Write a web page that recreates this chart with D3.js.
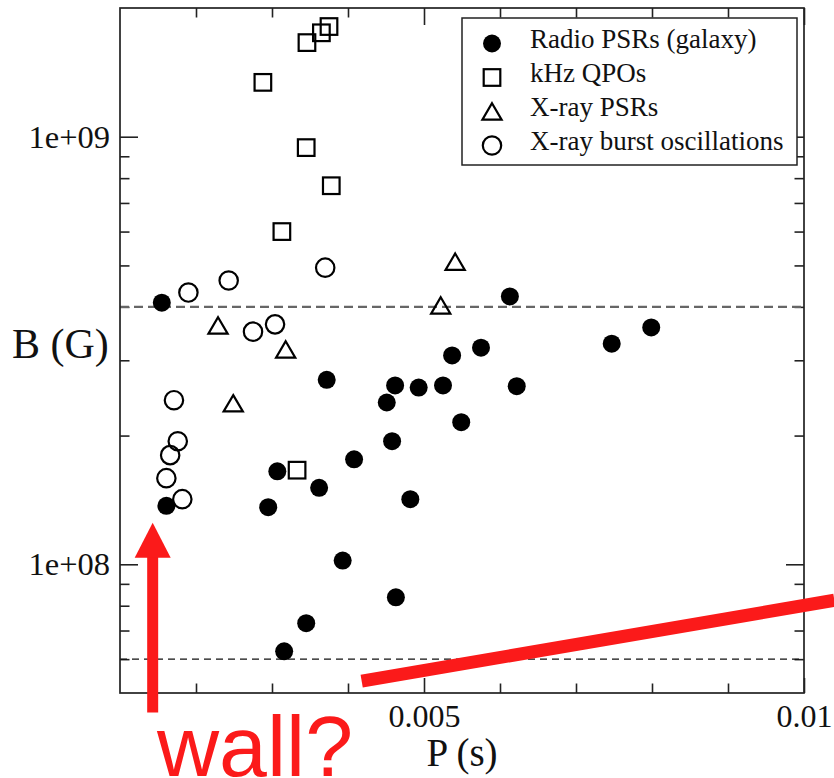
<!DOCTYPE html>
<html>
<head>
<meta charset="utf-8">
<script src="https://cdn.jsdelivr.net/npm/d3@7"></script>
<style>
  html, body { margin: 0; padding: 0; background: #fff; }
  svg { display: block; }
  text { font-family: "Liberation Serif", "Times New Roman", serif; fill: #111; }
</style>
</head>
<body>
<div id="chart"></div>
<script>
// B vs P for millisecond pulsars, with a "wall?" annotation

// [P (s), B (G)] for each population
const radioPSRs = [
  [0.00155, 4.09e8], [0.00372, 2.70e8], [0.00462, 2.62e8], [0.00493, 2.59e8],
  [0.00525, 2.62e8], [0.00451, 2.39e8], [0.00458, 1.94e8], [0.00408, 1.76e8],
  [0.00307, 1.65e8], [0.00362, 1.51e8], [0.00482, 1.42e8], [0.00161, 1.37e8],
  [0.00295, 1.36e8], [0.00613, 4.23e8], [0.00799, 3.58e8], [0.00747, 3.28e8],
  [0.00575, 3.21e8], [0.00537, 3.08e8], [0.00622, 2.61e8], [0.00549, 2.15e8],
  [0.00393, 1.02e8], [0.00463, 8.37e7], [0.00345, 7.28e7], [0.00316, 6.26e7]
];
const khzQPOs = [
  [0.00346, 1.66e9], [0.00365, 1.75e9], [0.00375, 1.81e9], [0.00288, 1.34e9],
  [0.00345, 9.43e8], [0.00378, 7.68e8], [0.00313, 6.00e8], [0.00333, 1.66e8]
];
const xrayPSRs = [
  [0.00229, 3.62e8], [0.00318, 3.18e8], [0.00249, 2.38e8],
  [0.00522, 4.03e8], [0.00541, 5.10e8]
];
const burstOsc = [
  [0.00190, 4.32e8], [0.00243, 4.61e8], [0.00370, 4.94e8], [0.00275, 3.50e8],
  [0.00304, 3.64e8], [0.00171, 2.42e8], [0.00176, 1.94e8], [0.00166, 1.80e8],
  [0.00161, 1.59e8], [0.00182, 1.42e8]
];

const legendLabels = ["Radio PSRs (galaxy)", "kHz QPOs", "X-ray PSRs", "X-ray burst oscillations"];
const legendSymbols = ["dot", "square", "triangle", "circle"];

// axes
const xMajor = [0.005, 0.01];
const xMinor = [0.002, 0.003, 0.004, 0.006, 0.007, 0.008, 0.009];
const yMajor = [1e8, 1e9];
const yMinor = [6e7, 7e7, 8e7, 9e7, 2e8, 3e8, 4e8, 5e8, 6e8, 7e8, 8e8, 9e8];
const xLabels = { 0.005: "0.005", 0.01: "0.01" };
const yLabels = { 1e8: "1e+08", 1e9: "1e+09" };

// horizontal dashed limits
const bLimits = [4e8, 6e7];

// red annotations (data coords)
const wallLine = [[0.00418, 5.33e7], [0.01040, 8.24e7]];
const wallArrow = { p: 0.00143, from: 4.5e7, to: 1.25e8 };

const width = 834, height = 778;
const plot = { left: 120, right: 804, top: 8, bottom: 693 };

const svg = d3.select("#chart").append("svg")
  .attr("width", width).attr("height", height);

const x = d3.scaleLinear().domain([0.001, 0.01]).range([plot.left, plot.right]);
const y = d3.scaleLog().domain([5e7, 2e9]).range([plot.bottom, plot.top]);

// ticks on all four sides, pointing inward
function ticks(axisFn, scale, vals, size, fmt, pad, pos) {
  const g = svg.append("g")
    .attr("transform", pos)
    .call(axisFn(scale).tickValues(vals).tickSizeInner(-size).tickSizeOuter(0)
      .tickPadding(pad).tickFormat(fmt || (() => "")));
  g.select(".domain").remove();
  g.selectAll("line").attr("stroke", "#222").attr("stroke-width", 1.6);
  return g;
}
const bottomPos = `translate(0,${plot.bottom})`;
const leftPos = `translate(${plot.left},0)`;
const xl = ticks(d3.axisBottom, x, xMajor, 15, d => xLabels[d], 11, bottomPos);
ticks(d3.axisBottom, x, xMinor, 9.5, null, 0, bottomPos);
ticks(d3.axisTop, x, xMajor, 17, null, 0, `translate(0,${plot.top})`);
ticks(d3.axisTop, x, xMinor, 9.5, null, 0, `translate(0,${plot.top})`);
const yl = ticks(d3.axisLeft, y, yMajor, 18, d => yLabels[d], 10, leftPos);
ticks(d3.axisLeft, y, yMinor, 9.5, null, 0, leftPos);
ticks(d3.axisRight, y, yMajor, 18, null, 0, `translate(${plot.right},0)`);
ticks(d3.axisRight, y, yMinor, 9.5, null, 0, `translate(${plot.right},0)`);

xl.selectAll("text").style("font-size", "32px").attr("fill", "#111")
  .style("font-family", '"Liberation Serif", serif');
yl.selectAll("text").style("font-size", "32.5px").attr("fill", "#111")
  .style("font-family", '"Liberation Serif", serif');

// dashed lines
svg.append("line")
  .attr("x1", plot.left).attr("x2", plot.right)
  .attr("y1", y(bLimits[0])).attr("y2", y(bLimits[0]))
  .attr("stroke", "#666").attr("stroke-width", 2.3).attr("stroke-dasharray", "9,5");
svg.append("line")
  .attr("x1", plot.left).attr("x2", plot.right)
  .attr("y1", y(bLimits[1])).attr("y2", y(bLimits[1]))
  .attr("stroke", "#111").attr("stroke-width", 1.3).attr("stroke-dasharray", "7,5");

// frame
svg.append("rect")
  .attr("x", plot.left).attr("y", plot.top)
  .attr("width", plot.right - plot.left).attr("height", plot.bottom - plot.top)
  .attr("fill", "none").attr("stroke", "#222").attr("stroke-width", 1.7);

// axis titles
svg.append("text").attr("x", 12).attr("y", 358)
  .style("font-size", "42px").text("B (G)");
svg.append("text").attr("x", (plot.left + plot.right) / 2).attr("y", 766)
  .attr("text-anchor", "middle").style("font-size", "39px").text("P (s)");

// symbol painter
function drawSymbol(g, kind) {
  if (kind === "dot") {
    g.append("circle").attr("r", 9).attr("fill", "#000");
  } else if (kind === "circle") {
    g.append("circle").attr("r", 9.2).attr("fill", "none")
      .attr("stroke", "#000").attr("stroke-width", 2.2);
  } else if (kind === "square") {
    g.append("rect").attr("x", -8.3).attr("y", -8.3).attr("width", 16.6).attr("height", 16.6)
      .attr("fill", "none").attr("stroke", "#000").attr("stroke-width", 2.2);
  } else {
    g.append("path").attr("d", "M0,-8.2L9.6,8.2L-9.6,8.2Z")
      .attr("fill", "none").attr("stroke", "#000").attr("stroke-width", 2.2)
      .attr("stroke-linejoin", "miter");
  }
}

const series = [radioPSRs, khzQPOs, xrayPSRs, burstOsc];
series.forEach((data, i) => {
  svg.append("g").selectAll("g")
    .data(data)
    .join("g")
    .attr("transform", d => `translate(${x(d[0])},${y(d[1])})`)
    .each(function () { drawSymbol(d3.select(this), legendSymbols[i]); });
});

// legend
const legend = svg.append("g");
legend.append("rect")
  .attr("x", 462).attr("y", 18).attr("width", 335).attr("height", 147)
  .attr("fill", "#fff").attr("stroke", "#222").attr("stroke-width", 1.5);
legendLabels.forEach((lab, i) => {
  const cy = 43.5 + i * 34;
  const s = legend.append("g").attr("transform", `translate(492,${cy})`);
  drawSymbol(s, legendSymbols[i]);
  legend.append("text").attr("x", 530).attr("y", cy + 4.5)
    .style("font-size", "27px").text(lab);
});

// red annotations
const red = "#fb1a1a";
svg.append("line")
  .attr("x1", x(wallLine[0][0])).attr("y1", y(wallLine[0][1]))
  .attr("x2", x(wallLine[1][0])).attr("y2", y(wallLine[1][1]))
  .attr("stroke", red).attr("stroke-width", 13);

const ax = x(wallArrow.p), ay0 = y(wallArrow.from), ay1 = y(wallArrow.to);
svg.append("line")
  .attr("x1", ax).attr("x2", ax).attr("y1", ay0).attr("y2", ay1 + 34)
  .attr("stroke", red).attr("stroke-width", 11);
svg.append("path")
  .attr("d", `M${ax},${ay1}L${ax + 18},${ay1 + 35}L${ax - 18},${ay1 + 35}Z`)
  .attr("fill", red);

svg.append("text").attr("x", 157).attr("y", 776)
  .style("font-family", '"Liberation Sans", Arial, sans-serif')
  .style("font-size", "86px").attr("fill", red).style("fill", red)
  .text("wall?");
</script>
</body>
</html>
